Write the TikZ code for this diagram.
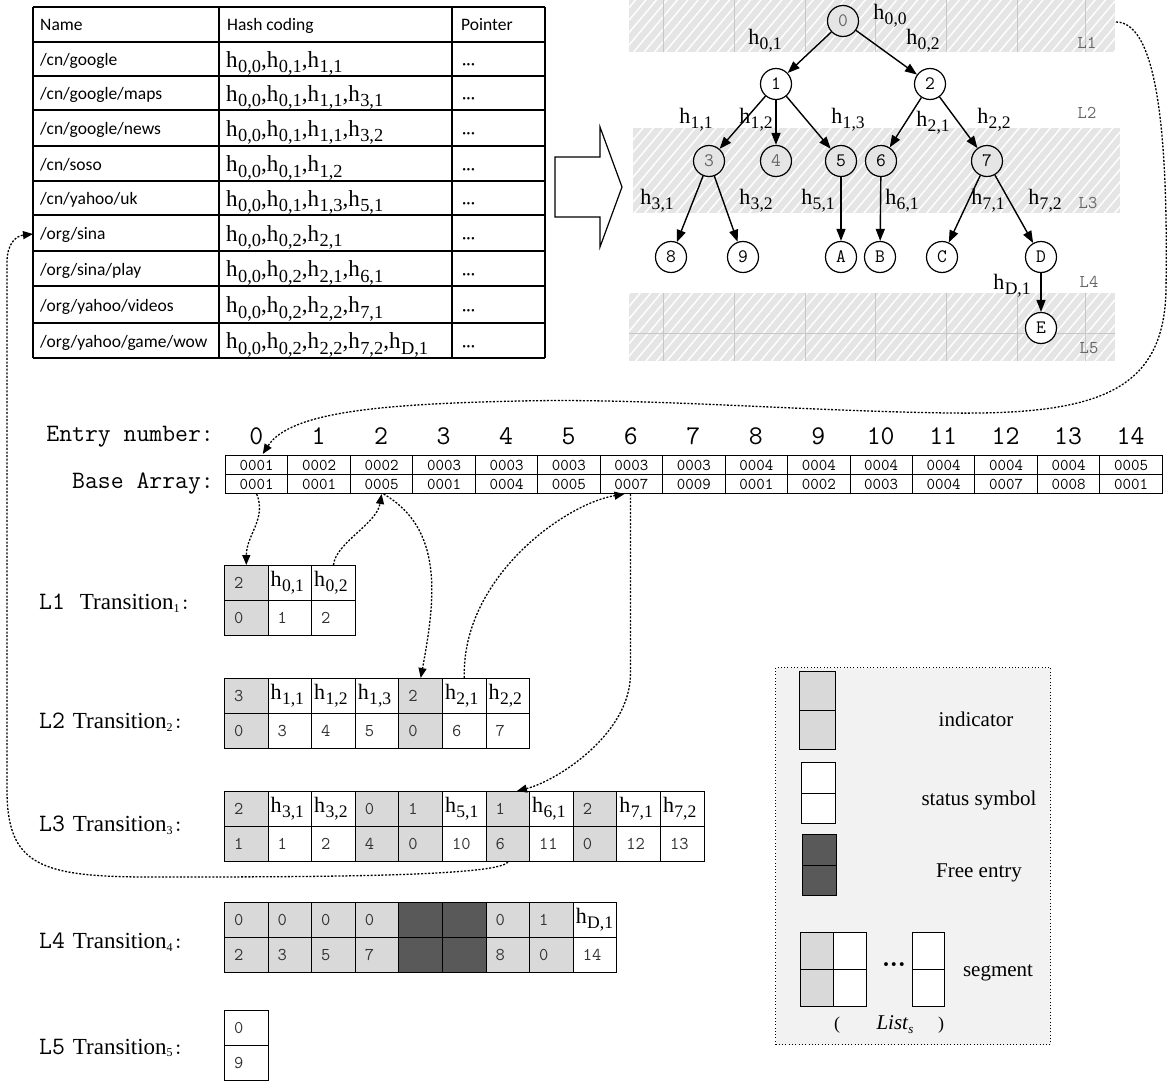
\documentclass[tikz,border=0pt]{standalone}
\usepackage{fontspec}
\setmainfont{Liberation Serif}
\newfontfamily\calfont{Carlito}
\newfontfamily\monofont{Latin Modern Mono}
\usetikzlibrary{arrows.meta,patterns.meta}
\newcommand\myfs[1]{\fontsize{#1}{#1}\selectfont}
\newcommand\hs[1]{h\kern0.02em\raisebox{-0.24em}{\scalebox{0.8}{#1}}}
\newcommand\dg[1]{\hspace*{7pt}{\monofont\myfs{18}\color{black!80}#1}}
\newcommand\trl[2]{{\monofont\myfs{25}L#1}\hspace{#2}{\myfs{23}Transition\raisebox{-0.12em}{\myfs{12}#1}}{\monofont\myfs{22}:}}
\begin{document}
\begin{tikzpicture}[x=1pt,y=-1pt,
  tabline/.style={line width=1.2pt},
  tname/.style={anchor=base west, inner sep=0pt, font=\calfont\myfs{17.5}},
  thash/.style={anchor=base west, inner sep=0pt, font=\myfs{23}},
  tptr/.style={anchor=base west, inner sep=0pt, font=\calfont\myfs{17}},
  tnode/.style={circle, draw, line width=1.2pt, minimum size=31pt, inner sep=0pt, font=\monofont\myfs{19}, fill=white},
  bandnode/.style={tnode, fill=black!10},
  tedge/.style={line width=1.4pt, -{Triangle[length=12pt,width=9pt]}},
  elab/.style={inner sep=0pt, font=\myfs{22}},
  llab/.style={inner sep=0pt, font=\monofont\myfs{18}, text=black!60},
  band/.style={fill=black!10},
  hatch/.style={pattern={Lines[angle=50,distance=8pt,line width=1.4pt]}, pattern color=white},
  gridl/.style={draw=black!22, line width=0.8pt},
  dotconn/.style={line width=1.3pt, dash pattern=on 2pt off 1.6pt, -{Triangle[length=10pt,width=8pt]}},
  bcell/.style={draw, line width=1pt, anchor=north west, minimum width=62.45pt, minimum height=19pt, inner sep=0pt, font=\monofont\myfs{16.5}},
  tc/.style={draw, line width=1pt, anchor=north west, minimum width=43.6pt, minimum height=35pt, inner xsep=2.5pt, inner ysep=0pt, text width=38.6pt, align=left, font=\myfs{22}},
  tind/.style={fill=black!15},
  tstat/.style={fill=white},
  tfree/.style={fill=black!65},
  lgbox/.style={draw, fill=black!5, line width=1pt, dash pattern=on 1pt off 2.3pt, inner sep=0pt, anchor=north west},
  lgc/.style={draw, line width=1.1pt, anchor=north west, inner sep=0pt},
  lglab/.style={inner sep=0pt, font=\myfs{21}},
  tlab/.style={anchor=west, inner sep=0pt},
  biglab/.style={anchor=east, inner sep=0pt, font=\monofont\myfs{25}}
]
\useasboundingbox (0,0) rectangle (1168,1081);

% ---------------- table ----------------
\foreach \yy in {7,42,76,110,146,181,215,251,286,323,358}
  \draw[tabline] (33,\yy) -- (545,\yy);
\foreach \xx in {33,219,452,545}
  \draw[tabline] (\xx,7) -- (\xx,358);
\node[tname] (hname) at (40,31) {Name};
\node[tname] (hhash) at (227,31) {Hash coding};
\node[tname] (hptr) at (461,31) {Pointer};
\foreach \k/\yc/\nm/\hc in {
  1/59/{/cn/google}/{\hs{0,0},\hs{0,1},\hs{1,1}},
  2/93/{/cn/google/maps}/{\hs{0,0},\hs{0,1},\hs{1,1},\hs{3,1}},
  3/128/{/cn/google/news}/{\hs{0,0},\hs{0,1},\hs{1,1},\hs{3,2}},
  4/163.5/{/cn/soso}/{\hs{0,0},\hs{0,1},\hs{1,2}},
  5/198/{/cn/yahoo/uk}/{\hs{0,0},\hs{0,1},\hs{1,3},\hs{5,1}},
  6/233/{/org/sina}/{\hs{0,0},\hs{0,2},\hs{2,1}},
  7/268.5/{/org/sina/play}/{\hs{0,0},\hs{0,2},\hs{2,1},\hs{6,1}},
  8/304.5/{/org/yahoo/videos}/{\hs{0,0},\hs{0,2},\hs{2,2},\hs{7,1}},
  9/340.5/{/org/yahoo/game/wow}/{\hs{0,0},\hs{0,2},\hs{2,2},\hs{7,2},\hs{D,1}}}{
  \node[tname] (nm\k) at (40,\yc+6.5) {\nm};
  \node[thash] (hc\k) at (226,\yc+8) {\hc};
  \node[tptr] (pt\k) at (462,\yc+10.5) {···};
}
\coordinate (sinaL) at (33,234);

% ---------------- hollow arrow ----------------
\draw[line width=1.2pt, fill=white] (555,157) -- (600,157) -- (600,127) -- (622,187)
  -- (600,247) -- (600,217) -- (555,217) -- cycle;

% ---------------- bands ----------------
\fill[band] (629,0) rectangle (1115,52);
\fill[hatch] (629,0) rectangle (1115,52);
\foreach \xx in {663,734,805,875,946,1017,1085} \draw[gridl] (\xx,0) -- (\xx,52);
\fill[band] (633,128) rectangle (1120,213);
\fill[hatch] (633,128) rectangle (1120,213);
\fill[band] (629,293) rectangle (1115,361);
\fill[hatch] (629,293) rectangle (1115,361);
\foreach \xx in {663,734,805,875,946,1017,1085} \draw[gridl] (\xx,293) -- (\xx,361);
\draw[gridl] (629,333) -- (1115,333);

% ---------------- tree ----------------
\node[bandnode, text=black!60] (n0) at (843,21) {0};
\node[tnode] (n1) at (776,84) {1};
\node[tnode] (n2) at (930,84) {2};
\node[bandnode, text=black!60] (n3) at (709,161) {3};
\node[bandnode, text=black!60] (n4) at (776,161) {4};
\node[bandnode] (n5) at (841,161) {5};
\node[bandnode] (n6) at (881,161) {6};
\node[bandnode] (n7) at (987,161) {7};
\node[tnode] (n8) at (671,257) {8};
\node[tnode] (n9) at (743,257) {9};
\node[tnode] (nA) at (841,257) {A};
\node[tnode] (nB) at (880,257) {B};
\node[tnode] (nC) at (942,257) {C};
\node[tnode] (nD) at (1041,257) {D};
\node[tnode] (nE) at (1041,328) {E};
\foreach \a/\b in {n0/n1,n0/n2,n1/n3,n1/n4,n1/n5,n2/n6,n2/n7,n3/n8,n3/n9,n5/nA,n6/nB,n7/nC,n7/nD,nD/nE}
  \draw[tedge] (\a) -- (\b);
\node[elab] (e00) at (890,16) {\hs{0,0}};
\node[elab] (e01) at (765,41) {\hs{0,1}};
\node[elab] (e02) at (923,41) {\hs{0,2}};
\node[elab] (e11) at (696,120) {\hs{1,1}};
\node[elab] (e12) at (756,120) {\hs{1,2}};
\node[elab] (e13) at (848,120) {\hs{1,3}};
\node[elab] (e21) at (933,123) {\hs{2,1}};
\node[elab] (e22) at (994,120) {\hs{2,2}};
\node[elab] (e31) at (657,201) {\hs{3,1}};
\node[elab] (e32) at (756,201) {\hs{3,2}};
\node[elab] (e51) at (818,201) {\hs{5,1}};
\node[elab] (e61) at (902,201) {\hs{6,1}};
\node[elab] (e71) at (988,201) {\hs{7,1}};
\node[elab] (e72) at (1045,201) {\hs{7,2}};
\node[elab] (eD1) at (1012,286) {\hs{D,1}};
\node[llab] (ll1) at (1087,43) {L1};
\node[llab] (ll2) at (1087,113) {L2};
\node[llab] (ll3) at (1088,203) {L3};
\node[llab] (ll4) at (1089,282) {L4};
\node[llab] (ll5) at (1089,348) {L5};
\coordinate (trL1) at (1116,22);

% ---------------- base array ----------------
\node[biglab] (entrylab) at (214,437) {Entry number:};
\node[biglab] (baselab) at (214,484) {Base Array:};
\foreach \i/\va/\vb in {0/0001/0001,1/0002/0001,2/0002/0005,3/0003/0001,4/0003/0004,
  5/0003/0005,6/0003/0007,7/0003/0009,8/0004/0001,9/0004/0002,10/0004/0003,
  11/0004/0004,12/0004/0007,13/0004/0008,14/0005/0001}{
  \node[bcell] (bt\i) at ({225+62.45*\i},455) {\va};
  \node[bcell] (bb\i) at ({225+62.45*\i},474) {\vb};
  \node[inner sep=0pt, font=\monofont\myfs{27}] (en\i) at ({225+62.45*(\i+0.5)},436) {\i};
}

% ---------------- transitions ----------------
\node[tlab] (lab1) at (39,603) {\trl{1}{15pt}};
\node[tlab] (lab2) at (39,722) {\trl{2}{8pt}};
\node[tlab] (lab3) at (39,825) {\trl{3}{8pt}};
\node[tlab] (lab4) at (39,942) {\trl{4}{8pt}};
\node[tlab] (lab5) at (39,1048) {\trl{5}{8pt}};

\foreach \ci/\cs/\ct/\cb in {0/tind/{\dg{2}}/{\dg{0}}, 1/tstat/{\hs{0,1}}/{\dg{1}}, 2/tstat/{\hs{0,2}}/{\dg{2}}}{
  \node[tc,\cs] (t1-\ci) at ({224+43.6*\ci},565) {\ct};
  \node[tc,\cs] (b1-\ci) at ({224+43.6*\ci},600) {\cb};
}
\foreach \ci/\cs/\ct/\cb in {0/tind/{\dg{3}}/{\dg{0}}, 1/tstat/{\hs{1,1}}/{\dg{3}}, 2/tstat/{\hs{1,2}}/{\dg{4}},
  3/tstat/{\hs{1,3}}/{\dg{5}}, 4/tind/{\dg{2}}/{\dg{0}}, 5/tstat/{\hs{2,1}}/{\dg{6}}, 6/tstat/{\hs{2,2}}/{\dg{7}}}{
  \node[tc,\cs] (t2-\ci) at ({224+43.6*\ci},678) {\ct};
  \node[tc,\cs] (b2-\ci) at ({224+43.6*\ci},713) {\cb};
}
\foreach \ci/\cs/\ct/\cb in {0/tind/{\dg{2}}/{\dg{1}}, 1/tstat/{\hs{3,1}}/{\dg{1}}, 2/tstat/{\hs{3,2}}/{\dg{2}},
  3/tind/{\dg{0}}/{\dg{4}}, 4/tind/{\dg{1}}/{\dg{0}}, 5/tstat/{\hs{5,1}}/{\dg{10}}, 6/tind/{\dg{1}}/{\dg{6}},
  7/tstat/{\hs{6,1}}/{\dg{11}}, 8/tind/{\dg{2}}/{\dg{0}}, 9/tstat/{\hs{7,1}}/{\dg{12}}, 10/tstat/{\hs{7,2}}/{\dg{13}}}{
  \node[tc,\cs] (t3-\ci) at ({224+43.6*\ci},791) {\ct};
  \node[tc,\cs] (b3-\ci) at ({224+43.6*\ci},826) {\cb};
}
\foreach \ci/\cs/\ct/\cb in {0/tind/{\dg{0}}/{\dg{2}}, 1/tind/{\dg{0}}/{\dg{3}}, 2/tind/{\dg{0}}/{\dg{5}},
  3/tind/{\dg{0}}/{\dg{7}}, 4/tfree/{}/{}, 5/tfree/{}/{}, 6/tind/{\dg{0}}/{\dg{8}},
  7/tind/{\dg{1}}/{\dg{0}}, 8/tstat/{\hs{D,1}}/{\dg{14}}}{
  \node[tc,\cs] (t4-\ci) at ({224+43.6*\ci},902) {\ct};
  \node[tc,\cs] (b4-\ci) at ({224+43.6*\ci},937) {\cb};
}
\node[tc,tstat] (t5-0) at (224,1010) {\dg{0}};
\node[tc,tstat] (b5-0) at (224,1045) {\dg{9}};

% ---------------- legend ----------------
\node[lgbox, minimum width=275pt, minimum height=377pt] (legend) at (775,667) {};
\node[lgc, tind, minimum width=36pt, minimum height=39pt] (gi1) at (799,671) {};
\node[lgc, tind, minimum width=36pt, minimum height=39pt] (gi2) at (799,710) {};
\node[lgc, tstat, minimum width=34pt, minimum height=30.5pt] (gs1) at (801,762) {};
\node[lgc, tstat, minimum width=34pt, minimum height=30.5pt] (gs2) at (801,792.5) {};
\node[lgc, tfree, minimum width=34pt, minimum height=30.5pt] (gf1) at (802,834) {};
\node[lgc, tfree, minimum width=34pt, minimum height=30.5pt] (gf2) at (802,864.5) {};
\node[lgc, tind, minimum width=33pt, minimum height=37pt] (gg1) at (800,932) {};
\node[lgc, tind, minimum width=33pt, minimum height=37pt] (gg2) at (800,969) {};
\node[lgc, tstat, minimum width=33pt, minimum height=37pt] (gw1) at (833,932) {};
\node[lgc, tstat, minimum width=33pt, minimum height=37pt] (gw2) at (833,969) {};
\node[lgc, tstat, minimum width=32pt, minimum height=37pt] (gl1) at (912,932) {};
\node[lgc, tstat, minimum width=32pt, minimum height=37pt] (gl2) at (912,969) {};
\node[lglab] (lgi) at (976,719) {indicator};
\node[lglab] (lgs) at (979,800) {status symbol};
\node[lglab] (lgf) at (979,873) {Free entry};
\node[lglab] (lgseg) at (998,973) {segment};
\node[inner sep=0pt, font=\myfs{24}\bfseries] (lgdots) at (894,968) {···};
\node[inner sep=0pt, font=\myfs{18}] (lgp1) at (837,1025) {(};
\node[inner sep=0pt, font=\myfs{21}] (lglist) at (895,1025) {\textit{List}\raisebox{-0.2em}{\myfs{13}\textit{s}}};
\node[inner sep=0pt, font=\myfs{18}] (lgp2) at (941,1025) {)};

% ---------------- dotted connectors ----------------
\draw[dotconn] (trL1) .. controls (1160,22) and (1168,150) .. (1166,290)
  .. controls (1164,390) and (1100,415) .. (950,413)
  .. controls (800,411) and (650,398) .. (520,401)
  .. controls (380,404) and (290,412) .. ([xshift=6pt,yshift=1pt]bt0.north);
\draw[dotconn] (bb0.south) .. controls +(10,25) and +(0,-30) .. (t1-0.north);
\draw[dotconn] (t1-2.north) .. controls +(2,-22) and +(-5,30) .. (bb2.south);
\draw[dotconn] ([xshift=2pt]bb2.south) .. controls +(60,35) and +(15,-80) .. (t2-4.north);
\draw[dotconn] (t2-5.north) .. controls +(-3,-100) and +(-60,10) .. ([xshift=-7pt]bb6.south);
\draw[dotconn] ([xshift=-1pt]bb6.south) -- ++(0,180) .. controls +(0,60) and +(40,-10) .. ([xshift=9pt]t3-6.north);
\draw[dotconn] (b3-6.south) .. controls +(-10,15) and +(150,0) .. (150,877)
  .. controls (40,877) and (7,865) .. (7,790) -- (7,262)
  .. controls (7,245) and (15,236) .. (sinaL);
\end{tikzpicture}
\end{document}
